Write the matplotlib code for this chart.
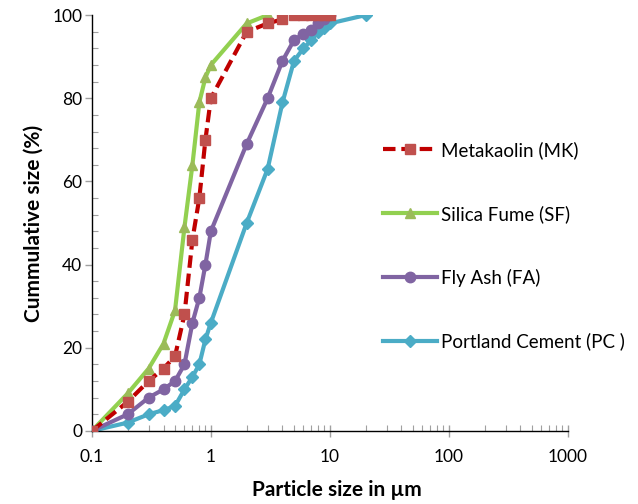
import matplotlib.pyplot as plt
from matplotlib.ticker import LogLocator, MultipleLocator, FixedLocator, FixedFormatter

plt.rcParams['font.family'] = ['Lato', 'DejaVu Sans']

# particle sizes (um) and cumulative size (%)
mk_x = [0.1, 0.2, 0.3, 0.4, 0.5, 0.6, 0.7, 0.8, 0.9, 1, 2, 3, 4, 5, 6, 7, 8, 9, 10]
mk_y = [0, 7, 12, 15, 18, 28, 46, 56, 70, 80, 96, 98, 99, 100, 100, 100, 100, 100, 100]

sf_x = [0.1, 0.2, 0.3, 0.4, 0.5, 0.6, 0.7, 0.8, 0.9, 1, 2, 3]
sf_y = [0, 9, 15, 21, 29, 49, 64, 79, 85, 88, 98, 100]

fa_x = [0.1, 0.2, 0.3, 0.4, 0.5, 0.6, 0.7, 0.8, 0.9, 1, 2, 3, 4, 5, 6, 7, 8, 9, 10]
fa_y = [0, 4, 8, 10, 12, 16, 26, 32, 40, 48, 69, 80, 89, 94, 95.5, 96.5, 98, 99, 100]

pc_x = [0.1, 0.2, 0.3, 0.4, 0.5, 0.6, 0.7, 0.8, 0.9, 1, 2, 3, 4, 5, 6, 7, 8, 9, 10, 20]
pc_y = [0, 2, 4, 5, 6, 10, 13, 16, 22, 26, 50, 63, 79, 89, 92, 94, 96, 97, 98, 100]

x_ticks = [0.1, 1, 10, 100, 1000]
x_labels = ['0.1', '1', '10', '100', '1000']

fig = plt.figure(figsize=(6.38, 5.04), dpi=100)
ax = fig.add_axes([0.144, 0.145, 0.746, 0.825])

ax.plot(mk_x, mk_y, color='#C00000', lw=3, ls=(0, (3, 1.4)), marker='s', ms=6.5,
        mfc='#C0504D', mec='#C0504D', label='Metakaolin (MK)', zorder=5)
ax.plot(sf_x, sf_y, color='#92D050', lw=3, marker='^', ms=7.5,
        mfc='#9BBB59', mec='#9BBB59', label='Silica Fume (SF)', zorder=4)
ax.plot(fa_x, fa_y, color='#8064A2', lw=3, marker='o', ms=7.5,
        mfc='#8064A2', mec='#8064A2', label='Fly Ash (FA)', zorder=3)
ax.plot(pc_x, pc_y, color='#4BACC6', lw=3, marker='D', ms=6.5,
        mfc='#4BACC6', mec='#4BACC6', label='Portland Cement (PC )', zorder=2)

ax.set_xscale('log')
ax.set_xlim(0.1, 1000)
ax.set_ylim(0, 100)
ax.xaxis.set_major_locator(FixedLocator(x_ticks))
ax.xaxis.set_major_formatter(FixedFormatter(x_labels))
ax.xaxis.set_minor_locator(LogLocator(base=10, subs=range(2, 10)))
ax.yaxis.set_major_locator(MultipleLocator(20))
ax.yaxis.set_minor_locator(MultipleLocator(4))

ax.spines['top'].set_visible(False)
ax.spines['right'].set_visible(False)
ax.spines['left'].set_linewidth(1.0)
ax.spines['bottom'].set_linewidth(1.0)

ax.tick_params(axis='x', which='major', direction='inout', length=8, width=1,
               color='#A0A0A0', labelsize=12.5, pad=9)
ax.tick_params(axis='x', which='minor', direction='in', length=4, width=0.8, color='#A0A0A0')
ax.tick_params(axis='y', which='major', direction='out', length=5, width=1,
               color='#A0A0A0', labelsize=12.5, pad=2)
ax.tick_params(axis='y', which='minor', direction='in', length=4, width=0.8, color='#A0A0A0')

ax.set_xlabel('Particle size in µm', fontsize=15, fontweight='bold', labelpad=10)
ax.set_ylabel('Cummulative size (%)', fontsize=15, fontweight='bold', labelpad=6)
ax.xaxis.set_label_coords(0.515, -0.118)

ax.legend(loc='upper left', bbox_to_anchor=(383 / 638, 1 - 141 / 504),
          bbox_transform=fig.transFigure, frameon=False, fontsize=13.5,
          handlelength=2.9, handletextpad=0.2, labelspacing=2.45,
          borderpad=0, borderaxespad=0, markerscale=1.0)

fig.savefig('out.png', dpi=100)
